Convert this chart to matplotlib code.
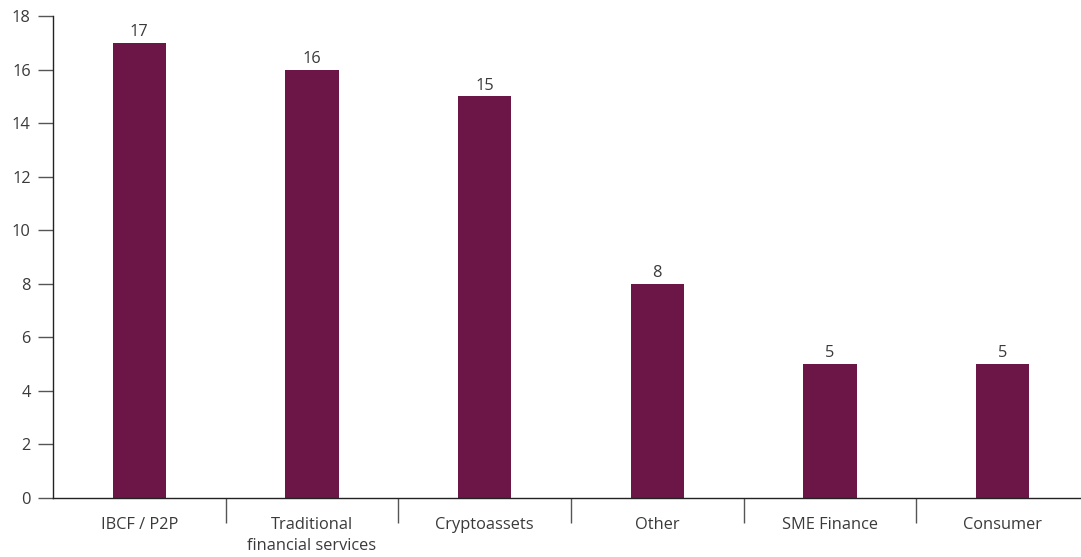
import matplotlib
matplotlib.use("Agg")
import matplotlib.pyplot as plt
from matplotlib.ticker import FixedLocator

categories = ["IBCF / P2P", "Traditional\nfinancial services", "Cryptoassets", "Other", "SME Finance", "Consumer"]
values = [17, 16, 15, 8, 5, 5]
yticks = [0, 2, 4, 6, 8, 10, 12, 14, 16, 18]

plt.rcParams['font.family'] = ['Open Sans', 'DejaVu Sans']
text_color = "#3a3a3a"
bar_color = "#6B1646"
fs = 11.8

fig = plt.figure(figsize=(10.81, 5.57), dpi=100)
ax = fig.add_axes([53/1081, 59/557, 1028/1081, 482/557])

x = list(range(len(categories)))
bars = ax.bar(x, values, width=0.31, color=bar_color, zorder=2)
ax.bar_label(bars, labels=[str(v) for v in values], padding=2, fontsize=fs, color=text_color)

ax.set_ylim(0, 18)
ax.set_xlim(-0.5, 5.5 - 8/172.7)
ax.set_yticks(yticks)
ax.set_yticklabels([str(t) for t in yticks], fontsize=fs, color=text_color)
ax.tick_params(axis='y', length=11, width=1, color="#555555", pad=5)

ax.set_xticks(x)
ax.set_xticklabels(categories, fontsize=fs, color=text_color, linespacing=1.45)
ax.tick_params(axis='x', which='major', length=0, pad=13.5)
ax.xaxis.set_minor_locator(FixedLocator([0.5, 1.5, 2.5, 3.5, 4.5]))
ax.tick_params(axis='x', which='minor', length=18, width=1, color="#555555")

for s in ['top', 'right']:
    ax.spines[s].set_visible(False)
ax.spines['left'].set_color("#222222")
ax.spines['bottom'].set_color("#222222")
ax.spines['left'].set_linewidth(1)
ax.spines['bottom'].set_linewidth(1)

fig.savefig("out.png", dpi=100)
